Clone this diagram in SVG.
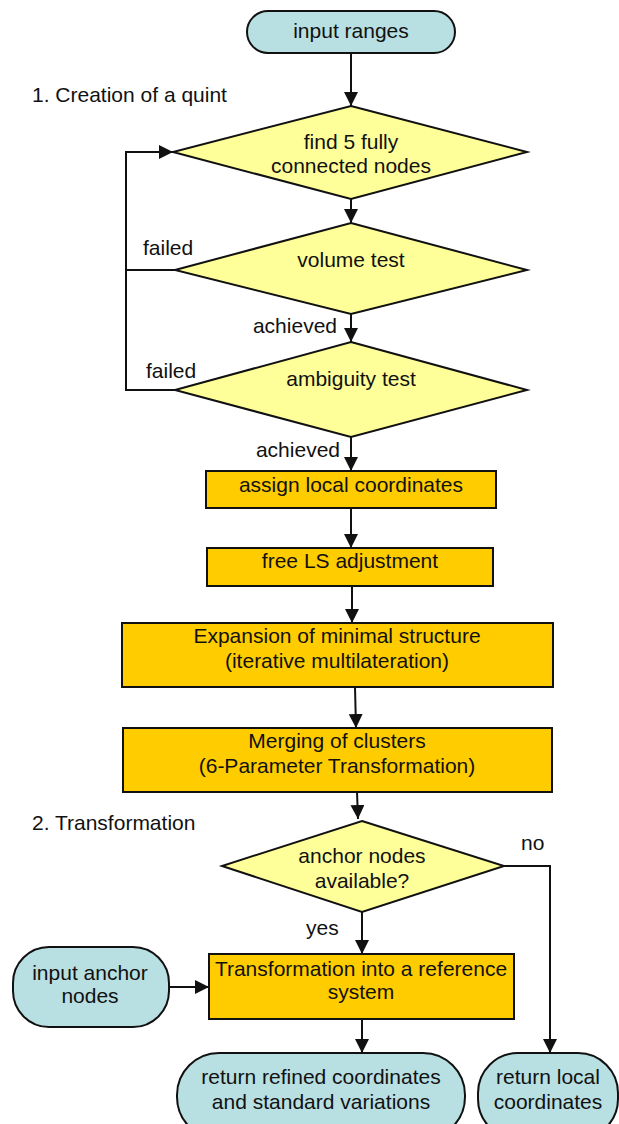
<svg xmlns="http://www.w3.org/2000/svg" width="619" height="1124" viewBox="0 0 619 1124">
<defs>
<style>
text{font-family:"Liberation Sans",Arial,sans-serif;font-size:21px;fill:#111;}
.c{text-anchor:middle;}
.term{fill:#b8dfe1;stroke:#111;stroke-width:2;}
.dec{fill:#ffff99;stroke:#111;stroke-width:2;}
.proc{fill:#ffcc00;stroke:#111;stroke-width:2;}
.ln{fill:none;stroke:#111;stroke-width:2;}
.arr{marker-end:url(#ah);}
</style>
<marker id="ah" markerUnits="userSpaceOnUse" markerWidth="14" markerHeight="14" viewBox="0 0 14 14" refX="14" refY="7" orient="auto">
<path d="M0,0 L14,7 L0,14 Z" fill="#111"/>
</marker>
</defs>
<rect width="619" height="1124" fill="#fff"/>
<text x="32" y="102">1. Creation of a quint</text>
<text x="32" y="830">2. Transformation</text>
<g id="connectors">
<line class="ln arr" x1="351" y1="53" x2="351" y2="106"/>
<line class="ln arr" x1="351" y1="199" x2="351" y2="223"/>
<line class="ln arr" x1="351" y1="314" x2="351" y2="342"/>
<line class="ln arr" x1="351" y1="437" x2="351" y2="471"/>
<line class="ln arr" x1="351" y1="508" x2="351" y2="548"/>
<line class="ln arr" x1="352" y1="586" x2="352" y2="623"/>
<line class="ln arr" x1="355" y1="687" x2="356" y2="728"/>
<line class="ln arr" x1="357" y1="792" x2="358" y2="819"/>
<polyline class="ln arr" points="175,390 126,390 126,152 173,152"/>
<line class="ln" x1="175" y1="270" x2="126" y2="270"/>
<line class="ln arr" x1="362" y1="912" x2="362" y2="954"/>
<polyline class="ln arr" points="504,866 550,866 550,1053"/>
<line class="ln arr" x1="169" y1="987" x2="209" y2="987"/>
<line class="ln arr" x1="362" y1="1019" x2="362" y2="1053"/>
<text x="143" y="255">failed</text>
<text x="146" y="378">failed</text>
<text x="337" y="333" text-anchor="end">achieved</text>
<text x="340" y="457" text-anchor="end">achieved</text>
<text x="521" y="850">no</text>
<text x="306" y="935">yes</text>
</g>
<g id="input_ranges">
<rect class="term" x="247" y="11" width="208" height="42" rx="21"/>
<text class="c" x="351" y="38">input ranges</text>
</g>
<g id="find_nodes">
<polygon class="dec" points="351,106 527,152 351,199 173,152"/>
<text class="c" x="351" y="149">find 5 fully</text>
<text class="c" x="351" y="173">connected nodes</text>
</g>
<g id="volume_test">
<polygon class="dec" points="351,223 527,270 351,314 175,270"/>
<text class="c" x="351" y="267">volume test</text>
</g>
<g id="ambiguity_test">
<polygon class="dec" points="351,342 527,390 351,437 175,390"/>
<text class="c" x="351" y="386">ambiguity test</text>
</g>
<g id="assign_local">
<rect class="proc" x="206" y="471" width="290" height="37"/>
<text class="c" x="351" y="492">assign local coordinates</text>
</g>
<g id="free_ls">
<rect class="proc" x="207" y="548" width="286" height="38"/>
<text class="c" x="350" y="568">free LS adjustment</text>
</g>
<g id="expansion">
<rect class="proc" x="122" y="623" width="431" height="64"/>
<text class="c" x="337" y="643">Expansion of minimal structure</text>
<text class="c" x="337" y="668">(iterative multilateration)</text>
</g>
<g id="merging">
<rect class="proc" x="123" y="728" width="429" height="64"/>
<text class="c" x="337" y="748">Merging of clusters</text>
<text class="c" x="337" y="773">(6-Parameter Transformation)</text>
</g>
<g id="anchor_available">
<polygon class="dec" points="362,821 504,866 362,912 222,866"/>
<text class="c" x="362" y="863">anchor nodes</text>
<text class="c" x="362" y="888">available?</text>
</g>
<g id="input_anchor">
<rect class="term" x="13" y="947" width="156" height="80" rx="36"/>
<text class="c" x="90" y="980">input anchor</text>
<text class="c" x="90" y="1003">nodes</text>
</g>
<g id="transformation">
<rect class="proc" x="209" y="954" width="305" height="65"/>
<text class="c" x="361" y="976">Transformation into a reference</text>
<text class="c" x="361" y="999">system</text>
</g>
<g id="return_refined">
<rect class="term" x="177" y="1053" width="288" height="86" rx="42"/>
<text class="c" x="321" y="1084">return refined coordinates</text>
<text class="c" x="321" y="1109">and standard variations</text>
</g>
<g id="return_local">
<rect class="term" x="478" y="1053" width="140" height="86" rx="40"/>
<text class="c" x="548" y="1084">return local</text>
<text class="c" x="548" y="1109">coordinates</text>
</g>
</svg>
